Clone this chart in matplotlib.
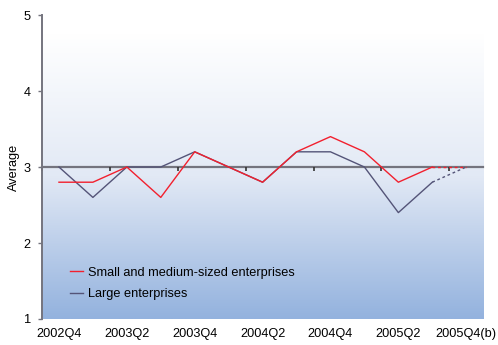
import numpy as np
import matplotlib
matplotlib.use("Agg")
import matplotlib.pyplot as plt
import matplotlib.transforms as mtransforms
from matplotlib.colors import LinearSegmentedColormap

plt.rcParams['font.family'] = ['Liberation Sans', 'DejaVu Sans']

quarters = ["2002Q4", "2003Q1", "2003Q2", "2003Q3", "2003Q4", "2004Q1", "2004Q2",
            "2004Q3", "2004Q4", "2005Q1", "2005Q2", "2005Q3", "2005Q4(b)"]
sme = [2.8, 2.8, 3.0, 2.6, 3.2, 3.0, 2.8, 3.2, 3.4, 3.2, 2.8, 3.0, 3.0]
large = [3.0, 2.6, 3.0, 3.0, 3.2, 3.0, 2.8, 3.2, 3.2, 3.0, 2.4, 2.8, 3.0]

red = "#f2202e"
navy = "#545478"
grey = "#74747e"
fs = 9.2

fig = plt.figure(figsize=(4.98, 3.45), dpi=100)
ax = fig.add_axes([0.0843, 0.0754, 0.886, 0.881])

x = np.arange(len(quarters))
ax.set_xlim(-0.5, len(quarters) - 0.5)
ax.set_ylim(1, 5)

# background gradient, white near the top fading into blue
grad = np.linspace(0, 1, 256).reshape(-1, 1)
cmap = LinearSegmentedColormap.from_list("bg", ["#ffffff", "#e2e9f5", "#93b2de"])
ax.imshow(grad, aspect="auto", cmap=cmap, origin="upper",
          extent=(-0.5, len(quarters) - 0.5, 1, 4.76), zorder=0)

# solid up to the last actual quarter, dashed for the forecast
n = len(quarters) - 1
ax.plot(x[:n], sme[:n], color=red, lw=1.0, zorder=3,
        label="Small and medium-sized enterprises")
ax.plot(x[n - 1:], sme[n - 1:], color=red, lw=1.0, ls=(0, (2, 2)), zorder=3)
ax.plot(x[:n], large[:n], color=navy, lw=1.0, zorder=2, label="Large enterprises")
ax.plot(x[n - 1:], large[n - 1:], color=navy, lw=1.0, ls=(0, (2, 2)), zorder=2)

# category axis crosses at 3
ax.spines['bottom'].set_position(('data', 3))
ax.spines['bottom'].set_color(grey)
ax.spines['bottom'].set_linewidth(1.6)
ax.spines['bottom'].set_zorder(1)
ax.spines['left'].set_color(grey)
ax.spines['left'].set_linewidth(1.4)
ax.spines['top'].set_visible(False)
ax.spines['right'].set_visible(False)

ax.set_xticks(np.arange(-0.5, len(quarters), 2))
ax.tick_params(axis='x', length=3, width=1.2, color="#333333", labelbottom=False)
trans = mtransforms.blended_transform_factory(ax.transData, ax.transAxes)
for i in range(0, len(quarters), 2):
    ax.text(i, -0.03, quarters[i], transform=trans, ha="center", va="top", fontsize=fs)

ax.set_yticks([1, 2, 3, 4, 5])
ax.tick_params(axis='y', length=3, width=1, color=grey, labelsize=fs, pad=5)
ax.set_ylabel("Average", fontsize=fs)
ax.yaxis.set_label_coords(-0.05, 0.5)

ax.legend(loc="lower left", bbox_to_anchor=(0.052, 0.045), borderaxespad=0,
          frameon=False, fontsize=fs, handlelength=1.0, handletextpad=0.4,
          labelspacing=0.75)

fig.savefig("out.png", dpi=100)
